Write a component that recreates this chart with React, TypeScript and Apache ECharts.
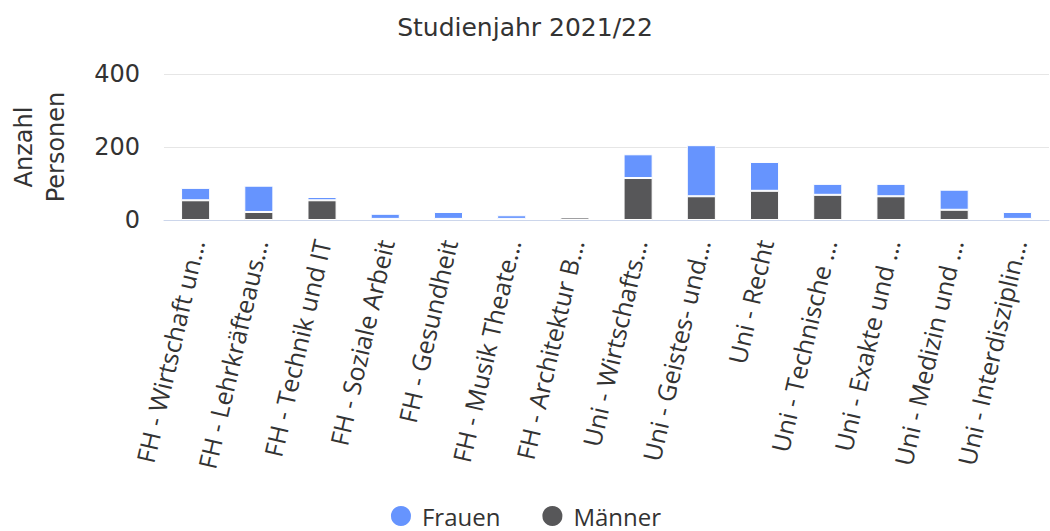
import React, { useEffect, useRef } from "react";
import * as echarts from "echarts";

const categories = [
  "FH - Wirtschaft un...",
  "FH - Lehrkräfteaus...",
  "FH - Technik und IT",
  "FH - Soziale Arbeit",
  "FH - Gesundheit",
  "FH - Musik Theate...",
  "FH - Architektur B...",
  "Uni - Wirtschafts...",
  "Uni - Geistes- und...",
  "Uni - Recht",
  "Uni - Technische ...",
  "Uni - Exakte und ...",
  "Uni - Medizin und ...",
  "Uni - Interdisziplin...",
];

const maenner = [54, 22, 54, 3, 3, 3, 7, 115, 65, 80, 69, 65, 28, 3];
const frauen = [34, 72, 9, 14, 19, 10, 1, 65, 140, 79, 30, 34, 55, 19];

const yTicks = { min: 0, max: 400, interval: 200 };

const FONT = "'Open Sans', 'Noto Sans', sans-serif";
const DV = "'DejaVu Sans', sans-serif";

export default function App() {
  const ref = useRef<HTMLDivElement>(null);

  useEffect(() => {
    document.body.style.margin = "0";
    if (!ref.current) return;
    const chart = echarts.init(ref.current, undefined, { renderer: "svg" });
    chart.setOption({
      animation: false,
      backgroundColor: "#ffffff",
      title: {
        text: "Studienjahr 2021/22",
        left: "center",
        top: 10,
        textStyle: {
          fontFamily: DV,
          fontSize: 25,
          fontWeight: "normal",
          color: "#333333",
        },
      },
      legend: {
        bottom: -2,
        left: "center",
        icon: "circle",
        itemWidth: 22,
        itemHeight: 22,
        itemGap: 40,
        data: ["Frauen", "Männer"],
        textStyle: { fontFamily: FONT, fontSize: 24, color: "#333333", padding: [0, 0, 0, 5] },
      },
      grid: { left: 161, right: 1, top: 74, bottom: 311, containLabel: false },
      xAxis: {
        type: "category",
        data: categories,
        axisLine: { lineStyle: { color: "#ccd6eb" } },
        axisTick: { show: false },
        axisLabel: {
          interval: 0,
          rotate: 77,
          margin: 20,
          padding: [10, 0, 0, 0],
          fontFamily: FONT,
          fontSize: 25,
          color: "#333333",
        },
      },
      yAxis: {
        type: "value",
        min: yTicks.min,
        max: yTicks.max,
        interval: yTicks.interval,
        name: "Anzahl\nPersonen",
        nameLocation: "middle",
        nameRotate: 90,
        nameGap: 92,
        nameTextStyle: { fontFamily: DV, fontSize: 24, color: "#333333", lineHeight: 32 },
        axisLine: { show: false },
        axisTick: { show: false },
        splitLine: { lineStyle: { color: "#e6e6e6" } },
        axisLabel: { fontFamily: DV, fontSize: 24, color: "#333333", margin: 24 },
      },
      series: [
        {
          name: "Männer",
          type: "bar",
          stack: "total",
          data: maenner,
          barWidth: "46%",
          itemStyle: { color: "#575759", borderColor: "#ffffff", borderWidth: 1 },
        },
        {
          name: "Frauen",
          type: "bar",
          stack: "total",
          data: frauen,
          barWidth: "46%",
          itemStyle: { color: "#6694fe", borderColor: "#ffffff", borderWidth: 1 },
        },
      ],
    });
    return () => chart.dispose();
  }, []);

  return <div ref={ref} style={{ width: 1050, height: 531 }} />;
}
